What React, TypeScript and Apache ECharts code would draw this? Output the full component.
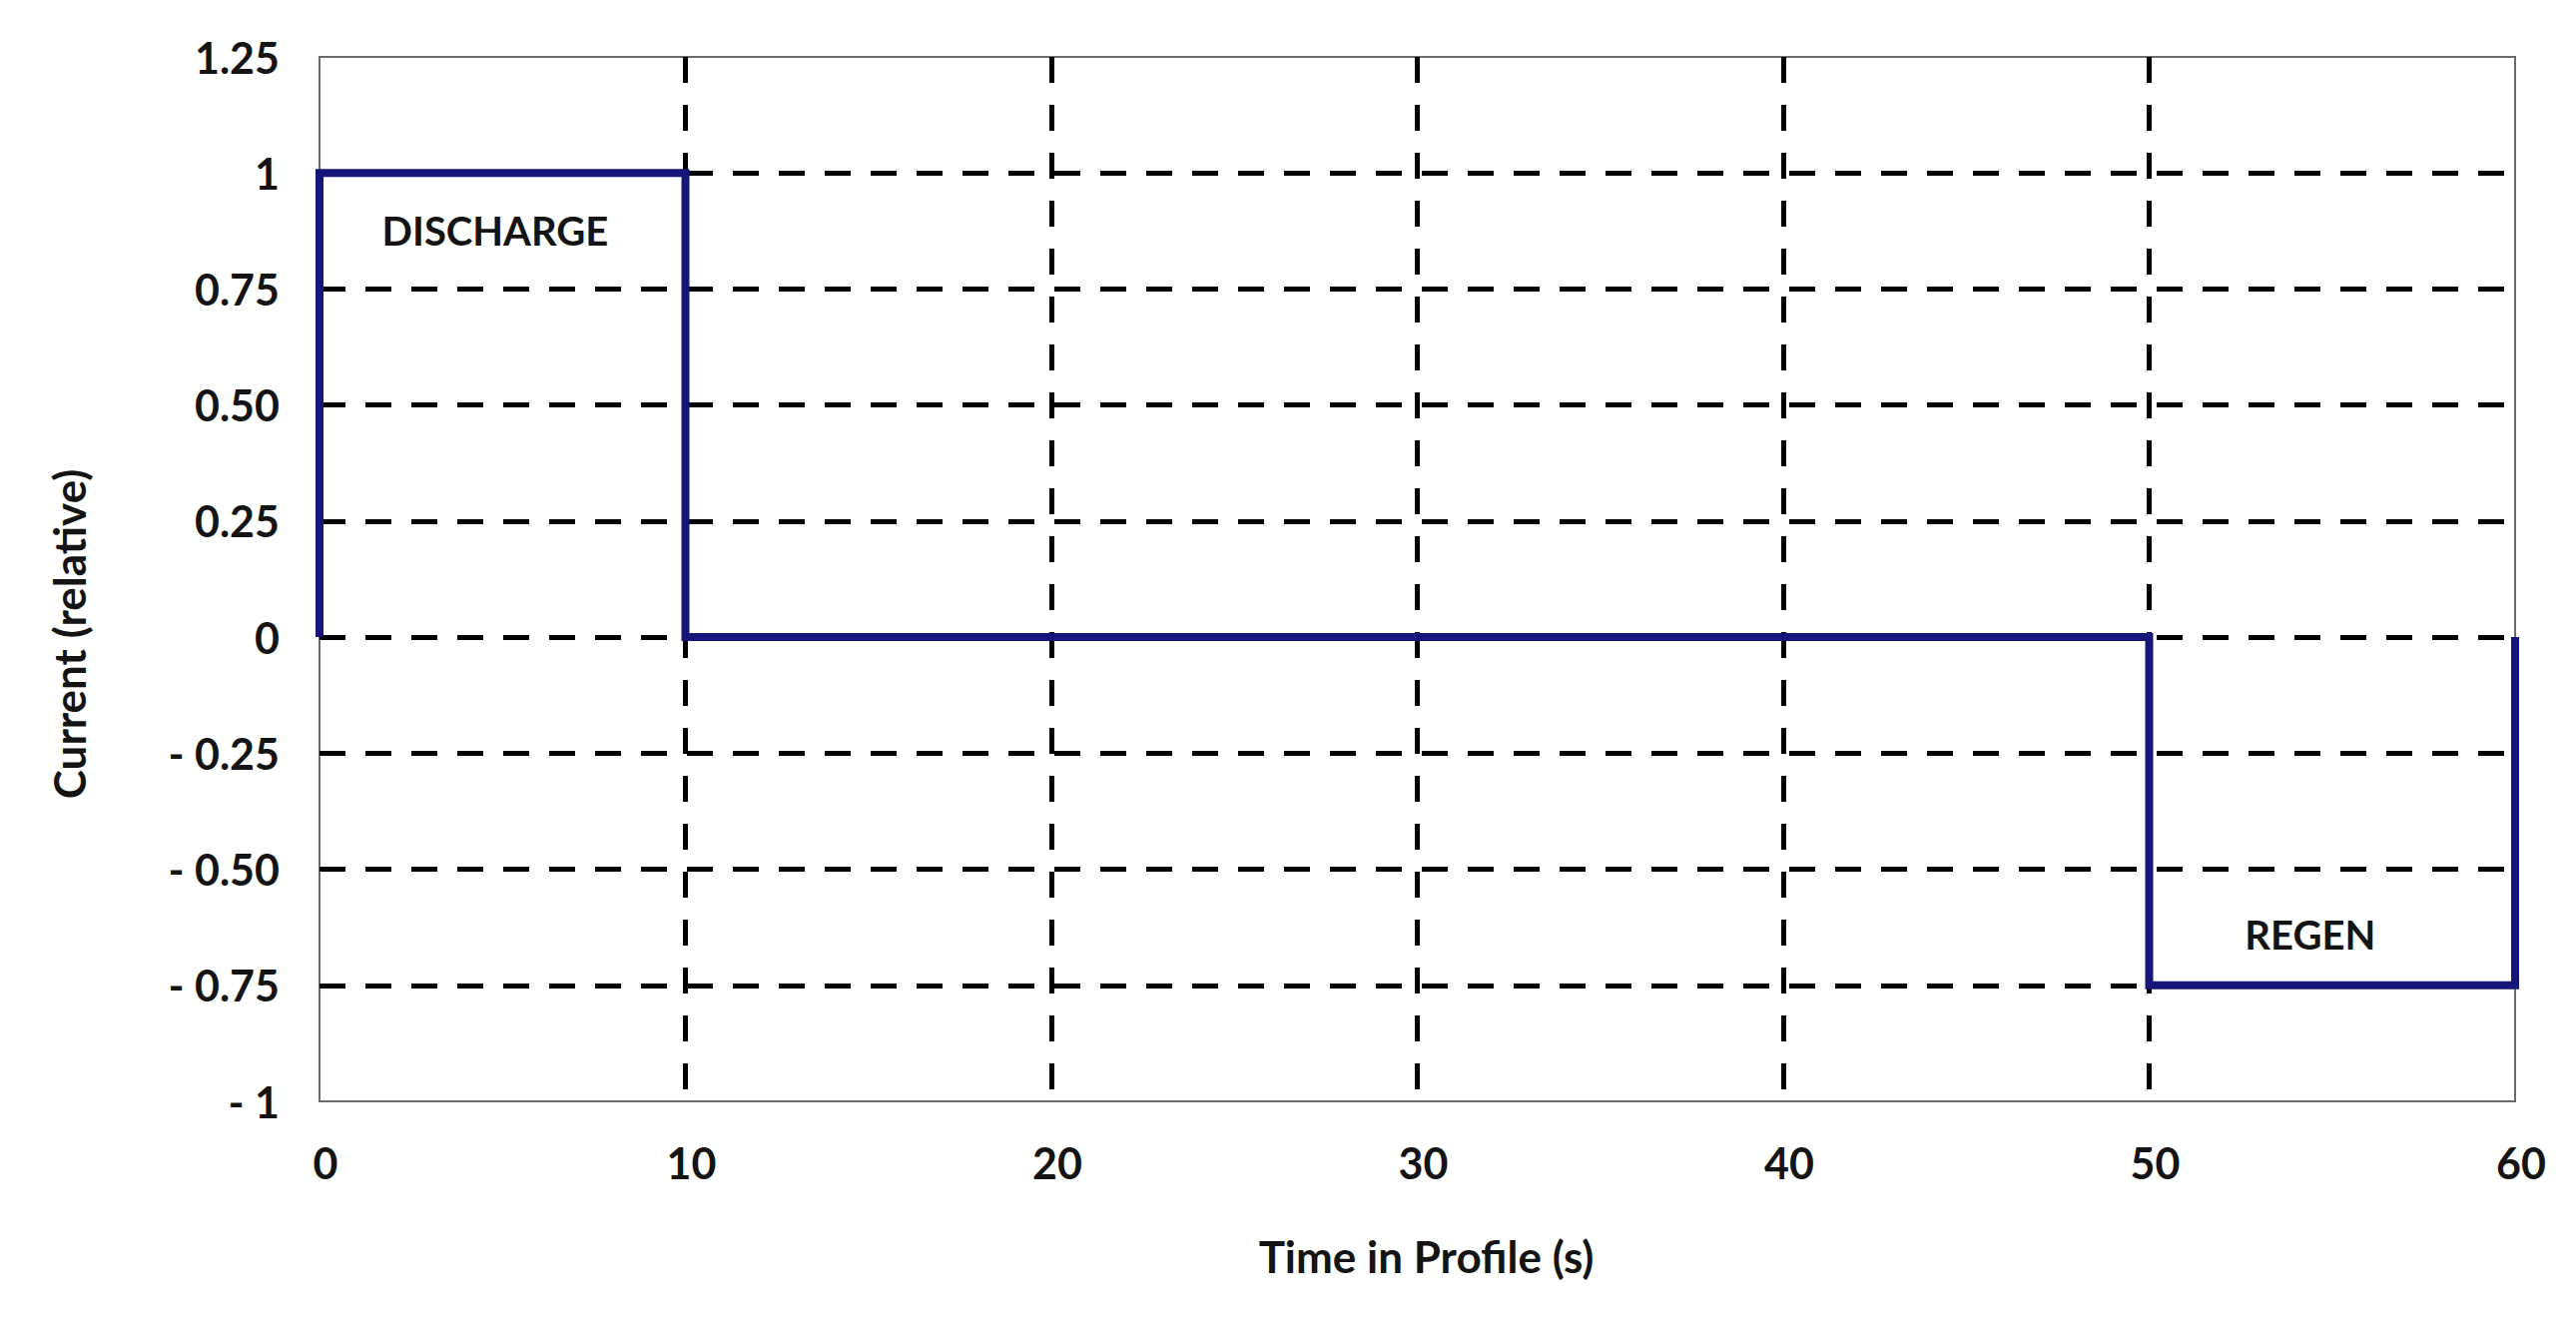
import React, { useEffect, useRef } from "react";
import * as echarts from "echarts";

const profileTime = [0, 0, 10, 10, 50, 50, 60, 60];
const profileCurrent = [0, 1, 1, 0, 0, -0.75, -0.75, 0];

const yTickValues = [-1, -0.75, -0.5, -0.25, 0, 0.25, 0.5, 0.75, 1, 1.25];
const yTickLabels = ["- 1", "- 0.75", "- 0.50", "- 0.25", "0", "0.25", "0.50", "0.75", "1", "1.25"];

const annotationNames = ["DISCHARGE", "REGEN"];
const annotationX = [4.8, 54.4];
const annotationY = [0.875, -0.64];

const yTitle = "Current (relative)";
const xTitle = "Time in Profile (s)";

const FONT = "Lato";
const TEXT = "#141414";
const NAVY = "#16167a";

export default function App() {
  const ref = useRef<HTMLDivElement>(null);
  useEffect(() => {
    if (!ref.current) return;
    const chart = echarts.init(ref.current, null, { renderer: "svg" });
    chart.setOption({
      animation: false,
      backgroundColor: "#ffffff",
      grid: {
        left: 320,
        right: 61,
        top: 57,
        bottom: 223,
        show: true,
        borderColor: "#6a6a6a",
        borderWidth: 2,
        backgroundColor: "transparent",
      },
      xAxis: {
        type: "value",
        min: 0,
        max: 60,
        interval: 10,
        name: xTitle,
        nameLocation: "middle",
        nameGap: 133,
        nameTextStyle: { fontFamily: FONT, fontWeight: "bold", fontSize: 44, color: TEXT, padding: [0, 0, 0, 18] },
        axisLine: { show: false },
        axisTick: { show: false },
        axisLabel: { fontFamily: FONT, fontWeight: "bold", fontSize: 43, color: TEXT, margin: 40, padding: [0, 0, 0, 12] },
        splitLine: {
          show: true,
          showMinLine: false,
          showMaxLine: false,
          lineStyle: { color: "#000", width: 5, type: [26, 22] },
        },
      },
      yAxis: {
        type: "value",
        min: -1,
        max: 1.25,
        interval: 0.25,
        axisLine: { show: false },
        axisTick: { show: false },
        axisLabel: {
          fontFamily: FONT,
          fontWeight: "bold",
          fontSize: 43,
          color: TEXT,
          margin: 40,
          formatter: (v: number) => {
            const i = yTickValues.findIndex((t) => Math.abs(t - v) < 1e-6);
            return i >= 0 ? yTickLabels[i] : "";
          },
        },
        splitLine: {
          show: true,
          showMinLine: false,
          showMaxLine: false,
          lineStyle: { color: "#000", width: 5, type: [26, 20] },
        },
      },
      series: [
        {
          type: "line",
          data: profileTime.map((t, i) => [t, profileCurrent[i]]),
          symbol: "none",
          lineStyle: { color: NAVY, width: 8, join: "miter" },
          z: 5,
        },
      ],
    });

    const texts: any[] = annotationNames.map((n, i) => {
      const [px, py] = chart.convertToPixel({ gridIndex: 0 }, [annotationX[i], annotationY[i]]);
      return {
        type: "text",
        x: px,
        y: py,
        z: 10,
        style: {
          text: n,
          fontFamily: FONT,
          fontWeight: "bold",
          fontSize: 40,
          fill: TEXT,
          align: "center",
          verticalAlign: "middle",
        },
      };
    });
    texts.push({
      type: "text",
      x: 69,
      y: 635,
      rotation: Math.PI / 2,
      style: {
        text: yTitle,
        fontFamily: FONT,
        fontWeight: "bold",
        fontSize: 44,
        fill: TEXT,
        align: "center",
        verticalAlign: "middle",
      },
    });
    chart.setOption({ graphic: texts });

    return () => chart.dispose();
  }, []);
  return (
    <div
      ref={ref}
      style={{ position: "absolute", left: 0, top: 0, width: 2580, height: 1326 }}
    />
  );
}
